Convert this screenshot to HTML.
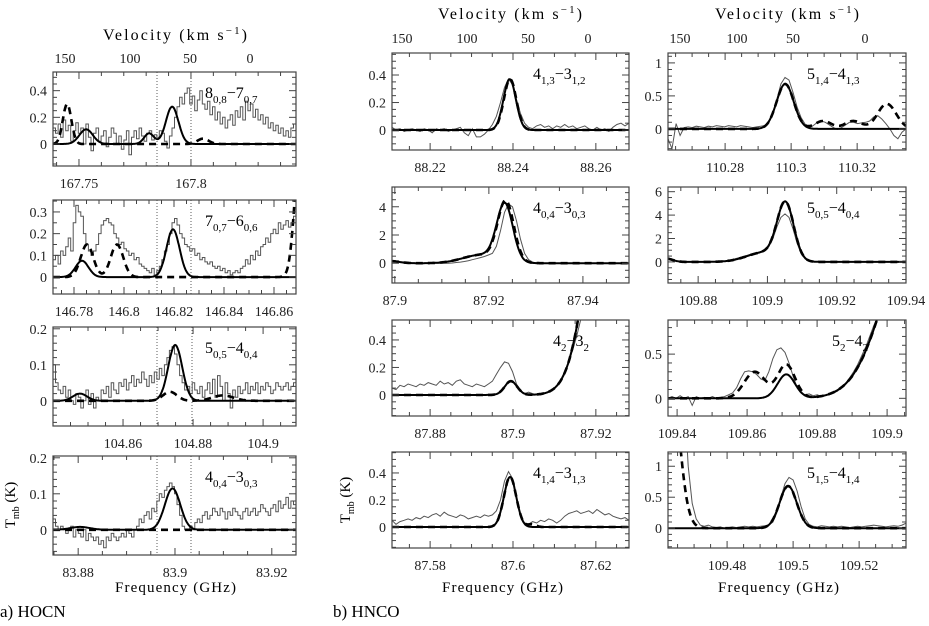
<!DOCTYPE html>
<html><head><meta charset="utf-8"><style>
body{margin:0;background:#fff;}
svg{display:block;font-family:"Liberation Serif",serif;}
.tk{font-size:14px;fill:#222;}
</style></head><body>
<svg id="fig" width="929" height="626" viewBox="0 0 929 626" xmlns="http://www.w3.org/2000/svg">
<g>
<text x="103" y="40" font-size="16" textLength="144" lengthAdjust="spacing">Velocity (km s<tspan dy="-6" font-size="11">−1</tspan><tspan dy="6">)</tspan></text>
<text class="tk" x="65" y="63" text-anchor="middle">150</text><text class="tk" x="130" y="63" text-anchor="middle">100</text><text class="tk" x="190" y="63" text-anchor="middle">50</text><text class="tk" x="250" y="63" text-anchor="middle">0</text>
</g>
<g>
<text x="438" y="19" font-size="16" textLength="144" lengthAdjust="spacing">Velocity (km s<tspan dy="-6" font-size="11">−1</tspan><tspan dy="6">)</tspan></text>
<text class="tk" x="402" y="43" text-anchor="middle">150</text><text class="tk" x="467" y="43" text-anchor="middle">100</text><text class="tk" x="528" y="43" text-anchor="middle">50</text><text class="tk" x="588" y="43" text-anchor="middle">0</text>
</g>
<g>
<text x="715" y="19" font-size="16" textLength="144" lengthAdjust="spacing">Velocity (km s<tspan dy="-6" font-size="11">−1</tspan><tspan dy="6">)</tspan></text>
<text class="tk" x="680" y="43" text-anchor="middle">150</text><text class="tk" x="737" y="43" text-anchor="middle">100</text><text class="tk" x="793" y="43" text-anchor="middle">50</text><text class="tk" x="865" y="43" text-anchor="middle">0</text>
</g>
<text x="115" y="592" font-size="15" textLength="121" lengthAdjust="spacing">Frequency (GHz)</text>
<text x="442" y="592" font-size="15" textLength="121" lengthAdjust="spacing">Frequency (GHz)</text>
<text x="718" y="592" font-size="15" textLength="121" lengthAdjust="spacing">Frequency (GHz)</text>
<text transform="translate(15,505) rotate(-90)" text-anchor="middle" font-size="15">T<tspan dy="4" font-size="10">mb</tspan><tspan dy="-4"> (K)</tspan></text>
<text transform="translate(350,500) rotate(-90)" text-anchor="middle" font-size="15">T<tspan dy="4" font-size="10">mb</tspan><tspan dy="-4"> (K)</tspan></text>
<text x="0" y="617" font-size="17">a) HOCN</text>
<text x="333" y="617" font-size="17">b) HNCO</text>
</svg>
<script>
// ---- data: observed spectra (evenly sampled across each panel) ----
const hocn1Obs=[0.12,0.08,0.15,0.05,0.18,0.1,0.14,0.02,0.1,0.16,0.08,0.12,0.0,0.15,0.05,-0.05,0.08,0.12,0.02,0.06,0.1,-0.02,0.05,0.12,0.08,0.0,0.06,-0.04,0.03,0.1,-0.08,0.05,0.1,0.04,0.12,0.06,0.02,0.08,0.1,0.03,0.07,0.05,0.1,0.08,0.02,-0.03,0.06,0.12,0.2,0.28,0.35,0.3,0.38,0.42,0.3,0.36,0.25,0.33,0.4,0.3,0.26,0.32,0.22,0.28,0.18,0.24,0.15,0.2,0.12,0.18,0.22,0.14,0.25,0.2,0.28,0.18,0.32,0.25,0.3,0.2,0.26,0.18,0.22,0.15,0.2,0.12,0.16,0.1,0.14,0.08,0.12,0.06,0.1,0.05,0.12,0.15];
const hocn2Obs=[0.08,0.1,0.06,0.12,0.1,0.14,0.18,0.12,0.25,0.33,0.3,0.28,0.2,0.15,0.12,0.1,0.12,0.15,0.2,0.24,0.26,0.27,0.25,0.24,0.2,0.18,0.15,0.16,0.13,0.12,0.1,0.11,0.08,0.09,0.06,0.05,0.04,0.03,0.02,0.04,0.01,0.03,0.05,0.08,0.12,0.15,0.2,0.25,0.27,0.24,0.2,0.18,0.15,0.14,0.12,0.13,0.1,0.11,0.08,0.09,0.07,0.06,0.07,0.05,0.04,0.05,0.03,0.04,0.02,0.03,0.01,0.02,0.03,0.02,0.04,0.05,0.08,0.06,0.1,0.08,0.12,0.1,0.14,0.15,0.18,0.16,0.2,0.22,0.2,0.25,0.22,0.24,0.26,0.23,0.25,0.28];
const hocn3Obs=[0.1,0.05,0.03,0.02,0.04,0.01,0.03,0.0,-0.01,0.02,0.01,-0.02,0.0,0.03,-0.01,0.02,-0.02,0.01,0.0,0.03,0.02,0.04,0.01,0.05,0.03,0.02,0.05,0.04,0.06,0.03,0.05,0.07,0.04,0.06,0.05,0.08,0.06,0.04,0.07,0.05,0.08,0.06,0.09,0.07,0.1,0.12,0.14,0.15,0.13,0.1,0.07,0.05,0.03,0.04,0.02,0.05,0.03,0.02,0.04,0.01,0.03,0.05,0.02,0.06,0.01,0.07,0.04,0.0,0.05,0.02,-0.02,0.03,0.01,0.04,0.02,0.03,0.05,0.02,0.04,0.03,0.05,0.02,0.04,0.03,0.05,0.04,0.02,0.03,0.05,0.04,0.03,0.04,0.05,0.03,0.04,0.05];
const hocn4Obs=[0.03,0.01,0.0,0.01,0.0,-0.01,0.0,0.01,-0.02,0.0,-0.01,-0.02,0.0,-0.03,-0.01,-0.02,-0.03,-0.02,-0.04,-0.03,-0.05,-0.02,-0.03,-0.01,-0.02,-0.03,-0.02,-0.01,-0.02,0.0,-0.01,-0.02,0.0,0.01,0.03,0.02,0.04,0.05,0.03,0.06,0.05,0.08,0.1,0.09,0.11,0.12,0.13,0.12,0.1,0.07,0.04,0.01,0.0,0.0,0.01,0.0,0.02,0.03,0.02,0.04,0.05,0.03,0.04,0.06,0.05,0.04,0.06,0.05,0.03,0.05,0.04,0.06,0.05,0.04,0.03,0.05,0.06,0.04,0.05,0.06,0.04,0.05,0.07,0.06,0.05,0.04,0.06,0.07,0.05,0.08,0.06,0.07,0.09,0.06,0.08,0.07];
const hnco1Obs=[0.02,0,0.01,-0.01,0,0.01,0,-0.01,0.01,0,-0.02,0.01,0,0.01,-0.01,0,0.01,0.02,-0.02,-0.04,0.01,-0.05,-0.05,-0.03,0.0,0.04,0.1,0.2,0.31,0.37,0.33,0.22,0.12,0.05,0.02,0.01,0.03,0.04,0.02,0.03,0.01,0.03,0.02,0.04,0.02,0.03,0.01,0.02,0.03,0.01,0,0.02,0,0.01,-0.01,0.02,0.04,0.05,0.03,0.05];
const hnco2Obs=[0.2,0.15,0.05,0,0,0,0,0,0,0,0,0,0,0,0,0.02,0.05,0.08,0.12,0.18,0.25,0.32,0.4,0.48,0.58,0.7,1.2,2.3,3.6,4.2,4.0,3.0,1.7,0.7,0.25,0.08,0.02,0,0,0,0,0,0,0,0,0,0,0,0,0,0,0,0,0,0,0,0,0,0,0];
const hnco3Obs=[0.05,0.04,0.07,0.06,0.08,0.07,0.06,0.08,0.07,0.09,0.08,0.07,0.1,0.08,0.09,0.07,0.1,0.11,0.08,0.07,0.06,0.08,0.07,0.06,0.08,0.1,0.15,0.2,0.24,0.23,0.17,0.08,0.03,0.01,0.02,0.01,0.0,0.0,0.01,0.02,0.04,0.07,0.11,0.17,0.24,0.33,0.43,0.55,0.7,0.9,1.1,1.3,1.5,1.5,1.5,1.5,1.5,1.5,1.5,1.5];
const hnco4Obs=[0.05,0.02,0.04,0.05,0.06,0.05,0.07,0.06,0.08,0.07,0.09,0.1,0.08,0.11,0.09,0.08,0.07,0.09,0.08,0.06,0.07,0.08,0.07,0.09,0.08,0.09,0.12,0.2,0.34,0.41,0.36,0.22,0.08,0.03,0.02,0.04,0.03,0.05,0.04,0.06,0.05,0.03,0.05,0.08,0.1,0.11,0.12,0.1,0.11,0.12,0.1,0.13,0.11,0.09,0.1,0.08,0.07,0.06,0.07,0.05];
const hnco5Obs=[-0.15,-0.3,0.08,-0.1,0.02,0.03,0.02,0.04,0.03,0.02,0.04,0.03,0.05,0.04,0.03,0.05,0.04,0.03,0.05,0.04,0.03,0.02,0.03,0.04,0.05,0.1,0.22,0.45,0.68,0.78,0.74,0.55,0.33,0.17,0.07,0.02,0.05,0.1,0.12,0.1,0.06,0.02,-0.01,0.02,0.06,0.1,0.1,0.08,0.09,0.1,0.12,0.18,0.2,0.15,0.08,0.0,-0.1,-0.15,-0.05,0.0];
const hnco6Obs=[0.3,0.25,0.1,0.02,0,0,0,0,0,0,0,0,0.02,0.04,0.07,0.1,0.2,0.3,0.4,0.5,0.6,0.7,0.8,0.88,0.95,1.3,2.0,3.0,3.8,4.1,3.8,2.8,1.6,0.7,0.25,0.08,0.02,0,0,0,0,0,0,0,0,0,0,0,0,0,0,0,0,0,0,0,0,0,0,0];
const hnco7Obs=[0,0.02,0,0.03,0,0.02,-0.08,0.02,0,0.01,0,0.02,0,0.01,0.02,0.04,0.06,0.12,0.22,0.3,0.31,0.3,0.27,0.22,0.2,0.3,0.45,0.55,0.57,0.52,0.4,0.25,0.12,0.06,0.04,0.05,0.03,0.04,0.02,0.03,0.05,0.06,0.08,0.12,0.17,0.23,0.3,0.38,0.48,0.58,0.7,0.82,0.92,1.05,1.2,1.3,1.4,1.5,1.5,1.5];
const hnco8Obs=[5,5,5,4,2.2,1.0,0.4,0.15,0.05,0.03,0.05,0.02,0.01,0.02,0,0.01,0.02,0.01,0.02,0.03,0.02,0.03,0.02,0.03,0.04,0.05,0.1,0.25,0.5,0.72,0.82,0.78,0.6,0.35,0.15,0.06,0.03,0.02,0.04,0.03,0.02,0.03,0.02,0.03,0.02,0.01,0.02,0.03,0.02,0.03,0.04,0.05,0.04,0.03,0.02,0.03,0.04,0.03,0.05,0.08];
// ---- data: fitted model components [centre GHz, peak K, sigma GHz] ----
const hocn1Solid=[[167.7532,0.11,0.003],[167.7813,0.08,0.0022],[167.7916,0.28,0.0028]];
const hocn1Dashed=[[167.7447,0.3,0.0019],[167.8054,0.04,0.0025]];
const hocn2Solid=[[146.7832,0.075,0.0026],[146.8196,0.22,0.0026]];
const hocn2Dashed=[[146.7852,0.15,0.0025],[146.7972,0.15,0.0025],[146.8705,0.6,0.0022]];
const hocn3Solid=[[104.8477,0.02,0.002],[104.8749,0.155,0.002]];
const hocn3Dashed=[[104.8734,0.025,0.002],[104.8885,0.015,0.003]];
const hocn4Solid=[[83.8804,0.008,0.002],[83.8995,0.115,0.0016]];
const hocn4Dashed=[[83.8995,0.0,0.0016]];
const hnco1Solid=[[88.2392,0.37,0.0015]];
const hnco1Dashed=[[88.2393,0.37,0.0015]];
const hnco2Solid=[[87.9234,4.0,0.0017],[87.9185,0.6,0.004],[87.8990,0.15,0.002]];
const hnco2Dashed=[[87.9236,4.2,0.0017],[87.9185,0.6,0.004],[87.8990,0.15,0.002]];
const hnco3Solid=[[87.8995,0.1,0.0015],[87.925,2.5,0.00535]];
const hnco3Dashed=[[87.8995,0.1,0.0015],[87.925,2.5,0.00535]];
const hnco4Solid=[[87.5993,0.37,0.0015]];
const hnco4Dashed=[[87.5993,0.37,0.0015],[87.6045,0.02,0.001]];
const hnco5Solid=[[110.2982,0.68,0.0026]];
const hnco5Dashed=[[110.2982,0.68,0.0026],[110.3097,0.12,0.0025],[110.3188,0.12,0.0025],[110.3290,0.38,0.0028]];
const hnco6Solid=[[109.9052,4.8,0.0024],[109.899,0.8,0.005],[109.8705,0.3,0.002]];
const hnco6Dashed=[[109.9052,4.8,0.0024],[109.899,0.8,0.005],[109.8705,0.3,0.002]];
const hnco7Solid=[[109.8712,0.27,0.0025],[109.91,2.2,0.0096]];
const hnco7Dashed=[[109.8712,0.38,0.0025],[109.8622,0.3,0.003],[109.91,2.2,0.0096]];
const hnco8Solid=[[109.4985,0.68,0.0026]];
const hnco8Dashed=[[109.4985,0.68,0.0026],[109.462,3,0.003]];
// ---- tick labels ----
const hocn1XTicks=["167.75","167.8"], hocn1YTicks=["0","0.2","0.4"];
const hocn2XTicks=["146.78","146.8","146.82","146.84","146.86"], hocn2YTicks=["0","0.1","0.2","0.3"];
const hocn3XTicks=["104.86","104.88","104.9"], hocn3YTicks=["0","0.1","0.2"];
const hocn4XTicks=["83.88","83.9","83.92"], hocn4YTicks=["0","0.1","0.2"];
const hnco1XTicks=["88.22","88.24","88.26"], hnco1YTicks=["0","0.2","0.4"];
const hnco2XTicks=["87.9","87.92","87.94"], hnco2YTicks=["0","2","4"];
const hnco3XTicks=["87.88","87.9","87.92"], hnco3YTicks=["0","0.2","0.4"];
const hnco4XTicks=["87.58","87.6","87.62"], hnco4YTicks=["0","0.2","0.4"];
const hnco5XTicks=["110.28","110.3","110.32"], hnco5YTicks=["0","0.5","1"];
const hnco6XTicks=["109.88","109.9","109.92","109.94"], hnco6YTicks=["0","2","4","6"];
const hnco7XTicks=["109.84","109.86","109.88","109.9"], hnco7YTicks=["0","0.5"];
const hnco8XTicks=["109.48","109.5","109.52"], hnco8YTicks=["0","0.5","1"];

// ---- layout ----
const NS="http://www.w3.org/2000/svg";
const svg=document.getElementById('fig');
const panels=[
 {n:'hocn-8-7',L:53,R:296,T:72,B:166,f0:167.7384,f1:167.8469,y0:-0.165,y1:0.54,xmin:0.01,ymin:0.05,obs:hocn1Obs,sol:hocn1Solid,das:hocn1Dashed,xt:hocn1XTicks,yt:hocn1YTicks,step:true,dot:[157,191],lab:['8','0,8','7','0,7'],lx:205},
 {n:'hocn-7-6',L:53,R:296,T:200,B:294,f0:146.7716,f1:146.8688,y0:-0.078,y1:0.355,xmin:0.005,ymin:0.05,obs:hocn2Obs,sol:hocn2Solid,das:hocn2Dashed,xt:hocn2XTicks,yt:hocn2YTicks,step:true,dot:[157,191],lab:['7','0,7','6','0,6'],lx:205},
 {n:'hocn-5-4',L:53,R:296,T:327,B:426,f0:104.84,f1:104.9094,y0:-0.07,y1:0.205,xmin:0.005,ymin:0.02,obs:hocn3Obs,sol:hocn3Solid,das:hocn3Dashed,xt:hocn3XTicks,yt:hocn3YTicks,step:true,dot:[157,192],lab:['5','0,5','4','0,4'],lx:205},
 {n:'hocn-4-3',L:53,R:296,T:456,B:555,f0:83.8748,f1:83.925,y0:-0.07,y1:0.205,xmin:0.005,ymin:0.02,obs:hocn4Obs,sol:hocn4Solid,das:hocn4Dashed,xt:hocn4XTicks,yt:hocn4YTicks,step:true,dot:[157,191],lab:['4','0,4','3','0,3'],lx:205},
 {n:'hnco-413-312',L:392,R:629,T:53,B:150,f0:88.2108,f1:88.268,y0:-0.145,y1:0.56,xmin:0.005,ymin:0.05,obs:hnco1Obs,sol:hnco1Solid,das:hnco1Dashed,xt:hnco1XTicks,yt:hnco1YTicks,lab:['4','1,3','3','1,2'],lx:533},
 {n:'hnco-404-303',L:392,R:629,T:187,B:283,f0:87.8994,f1:87.9498,y0:-1.4,y1:5.4,xmin:0.005,ymin:0.5,obs:hnco2Obs,sol:hnco2Solid,das:hnco2Dashed,xt:hnco2XTicks,yt:hnco2YTicks,lab:['4','0,4','3','0,3'],lx:533},
 {n:'hnco-42-32',L:392,R:629,T:320,B:416,f0:87.8708,f1:87.928,y0:-0.153,y1:0.545,xmin:0.005,ymin:0.05,obs:hnco3Obs,sol:hnco3Solid,das:hnco3Dashed,xt:hnco3XTicks,yt:hnco3YTicks,lab:['4','2','3','2'],lx:553},
 {n:'hnco-414-313',L:392,R:629,T:452,B:548,f0:87.5708,f1:87.628,y0:-0.155,y1:0.555,xmin:0.005,ymin:0.05,obs:hnco4Obs,sol:hnco4Solid,das:hnco4Dashed,xt:hnco4XTicks,yt:hnco4YTicks,lab:['4','1,4','3','1,3'],lx:533},
 {n:'hnco-514-413',L:668,R:906,T:53,B:150,f0:110.2627,f1:110.3348,y0:-0.32,y1:1.15,xmin:0.005,ymin:0.1,obs:hnco5Obs,sol:hnco5Solid,das:hnco5Dashed,xt:hnco5XTicks,yt:hnco5YTicks,lab:['5','1,4','4','1,3'],lx:807},
 {n:'hnco-505-404',L:668,R:906,T:187,B:283,f0:109.8713,f1:109.94,y0:-1.8,y1:6.4,xmin:0.005,ymin:0.5,obs:hnco6Obs,sol:hnco6Solid,das:hnco6Dashed,xt:hnco6XTicks,yt:hnco6YTicks,lab:['5','0,5','4','0,4'],lx:807},
 {n:'hnco-52-42',L:668,R:906,T:320,B:416,f0:109.8374,f1:109.9054,y0:-0.2,y1:0.886,xmin:0.005,ymin:0.1,obs:hnco7Obs,sol:hnco7Solid,das:hnco7Dashed,xt:hnco7XTicks,yt:hnco7YTicks,lab:['5','2','4','2'],lx:832},
 {n:'hnco-515-414',L:668,R:906,T:452,B:548,f0:109.4621,f1:109.5342,y0:-0.32,y1:1.23,xmin:0.005,ymin:0.1,obs:hnco8Obs,sol:hnco8Solid,das:hnco8Dashed,xt:hnco8XTicks,yt:hnco8YTicks,lab:['5','1,5','4','1,4'],lx:807}
];
function mk(tag,attrs,parent){const e=document.createElementNS(NS,tag);for(const k in attrs)e.setAttribute(k,attrs[k]);(parent||svg).appendChild(e);return e;}
function model(f,comps){let s=0;for(const c of comps)s+=c[1]*Math.exp(-((f-c[0])**2)/(2*c[2]*c[2]));return s;}
panels.forEach((p,pi)=>{
 const xs=f=>p.L+(f-p.f0)/(p.f1-p.f0)*(p.R-p.L);
 const ys=v=>p.B-(v-p.y0)/(p.y1-p.y0)*(p.B-p.T);
 const g=mk('g',{});
 
 
 const cp=mk('clipPath',{id:'c'+pi},g);mk('rect',{x:p.L,y:p.T,width:p.R-p.L,height:p.B-p.T},cp);
 const plot=mk('g',{'clip-path':'url(#c'+pi+')'},g);
 const N=p.obs.length;let d='';
 if(p.step){const w=(p.f1-p.f0)/N;p.obs.forEach((v,i)=>{const xa=xs(p.f0+i*w),xb=xs(p.f0+(i+1)*w);d+=(i?'L':'M')+xa.toFixed(1)+' '+ys(v).toFixed(1)+'L'+xb.toFixed(1)+' '+ys(v).toFixed(1);});}
 else{p.obs.forEach((v,i)=>{const f=p.f0+i*(p.f1-p.f0)/(N-1);d+=(i?'L':'M')+xs(f).toFixed(1)+' '+ys(v).toFixed(1);});}
 const ob=mk('path',{d:d,fill:'none',stroke:'#555','stroke-width':1},plot);
 
 
 const curve=comps=>{let s='';for(let i=0;i<=400;i++){const f=p.f0+i*(p.f1-p.f0)/400;s+=(i?'L':'M')+xs(f).toFixed(1)+' '+ys(model(f,comps)).toFixed(1);}return s;};
 const da=mk('path',{d:curve(p.das),fill:'none',stroke:'#000','stroke-width':2.6,'stroke-dasharray':'7 5'},plot);
 
 
 const so=mk('path',{d:curve(p.sol),fill:'none',stroke:'#000','stroke-width':2},plot);
 
 
 if(p.dot)p.dot.forEach(x=>mk('line',{x1:x,x2:x,y1:p.T,y2:p.B,stroke:'#333','stroke-width':0.8,'stroke-dasharray':'1 2'},g));
 mk('rect',{x:p.L,y:p.T,width:p.R-p.L,height:p.B-p.T,fill:'none',stroke:'#444','stroke-width':1.2},g);
 const ax=mk('g',{},g);
 
 
 const kmin=Math.ceil(p.f0/p.xmin-1e-6),kmax=Math.floor(p.f1/p.xmin+1e-6);
 for(let k=kmin;k<=kmax;k++){const f=k*p.xmin;const x=xs(f);const lab=p.xt.find(t=>Math.abs(parseFloat(t)-f)<p.xmin/3);const L=lab?7:4;
  mk('line',{x1:x,x2:x,y1:p.B,y2:p.B-L,stroke:'#444'},ax);mk('line',{x1:x,x2:x,y1:p.T,y2:p.T+L,stroke:'#444'},ax);
  if(lab){const t=mk('text',{x:x,y:p.B+22,'text-anchor':'middle',class:'tk'},ax);t.textContent=lab;}}
 const ay=mk('g',{},g);
 
 
 const jmin=Math.ceil(p.y0/p.ymin-1e-6),jmax=Math.floor(p.y1/p.ymin+1e-6);
 for(let j=jmin;j<=jmax;j++){const v=j*p.ymin;const y=ys(v);const lab=p.yt.find(t=>Math.abs(parseFloat(t)-v)<p.ymin/3);const L=lab?7:4;
  mk('line',{x1:p.L,x2:p.L+L,y1:y,y2:y,stroke:'#444'},ay);mk('line',{x1:p.R,x2:p.R-L,y1:y,y2:y,stroke:'#444'},ay);
  if(lab){const t=mk('text',{x:p.L-6,y:y+5,'text-anchor':'end',class:'tk'},ay);t.textContent=lab;}}
 const tl=mk('text',{x:p.lx,y:p.T+26,'font-size':16},g);
 
 
 tl.innerHTML=p.lab[0]+'<tspan dy="5" font-size="11">'+p.lab[1]+'</tspan><tspan dy="-5">−'+p.lab[2]+'</tspan><tspan dy="5" font-size="11">'+p.lab[3]+'</tspan>';
});
</script>
</body></html>
